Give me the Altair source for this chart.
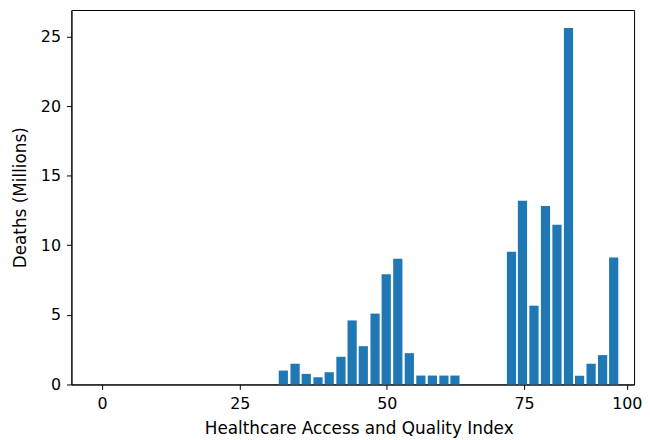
import altair as alt
import pandas as pd

# HAQ index value of each bar and deaths (millions)
haq = [32.4, 34.4, 36.3, 38.3, 40.2, 42.2, 44.1, 46.0, 48.0, 49.9,
       52.0, 54.1, 56.2, 58.3, 60.4, 62.4,
       72.7, 74.7, 77.4, 80.2, 83.0, 85.8, 88.5, 91.3, 94.1, 96.8]
deaths = [1.00, 1.49, 0.76, 0.52, 0.88, 1.99, 4.60, 2.75, 5.09, 7.91,
          9.03, 2.25, 0.64, 0.64, 0.64, 0.64,
          9.53, 13.20, 5.66, 12.82, 11.47, 25.60, 0.62, 1.49, 2.11, 9.12]

x_ticks = [0, 25, 50, 75, 100]
y_ticks = [0, 5, 10, 15, 20, 25]

df = pd.DataFrame({"haq": haq, "deaths": deaths})

FONT = "DejaVu Sans"

chart = alt.Chart(df).mark_bar(size=9.3, color="#1f77b4", orient="vertical").encode(
    x=alt.X("haq:Q",
            title="Healthcare Access and Quality Index",
            scale=alt.Scale(domain=[-5.6, 0, 25, 50, 75, 100, 101.7],
                            range=[0, 31, 170, 318.4, 457, 560.7, 568],
                            nice=False, zero=False),
            axis=alt.Axis(values=x_ticks, grid=False, tickSize=5, labelPadding=6,
                          titlePadding=9, titleX=290, titleAlign="center")),
    y=alt.Y("deaths:Q",
            title="Deaths (Millions)",
            scale=alt.Scale(domain=[0, 26.9], nice=False),
            axis=alt.Axis(values=y_ticks, grid=False, tickSize=5, labelPadding=6,
                          titlePadding=11)),
).properties(
    width=568,
    height=378,
    autosize=alt.AutoSizeParams(type="none"),
    padding={"left": 64, "top": 0, "right": 8, "bottom": 52},
).configure_view(
    stroke="#000000", strokeWidth=1
).configure_axis(
    domainColor="#000000", tickColor="#000000", labelColor="#000000",
    titleColor="#000000", labelFont=FONT, titleFont=FONT, labelFontSize=16,
    titleFontSize=17, titleFontWeight="normal", domainWidth=1, tickWidth=1
)

chart.save("out.html", embed_options={"renderer": "svg", "actions": False})
